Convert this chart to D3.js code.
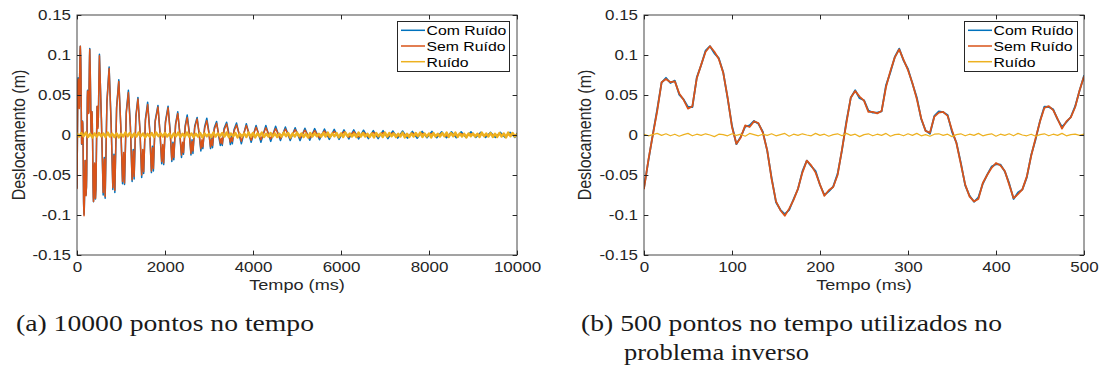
<!DOCTYPE html>
<html><head><meta charset="utf-8">
<script src="https://cdn.jsdelivr.net/npm/d3@7"></script>
<style>body{margin:0;background:#fff;} svg{display:block}</style>
</head><body>
<svg id="chart" width="1103" height="369"></svg>
<script>
// ---------- data ----------
const yTicks = [-0.15, -0.1, -0.05, 0, 0.05, 0.1, 0.15];
const yTickLabels = ["-0.15", "-0.1", "-0.05", "0", "0.05", "0.1", "0.15"];
const xTicksA = [0, 2000, 4000, 6000, 8000, 10000];
const xTicksB = [0, 100, 200, 300, 400, 500];
const seriesNames = ["Com Ruído", "Sem Ruído", "Ruído"];
const seriesColors = ["#0072BD", "#D95319", "#EDB120"];
const xLabel = "Tempo (ms)";
const yLabel = "Deslocamento (m)";
const captionA = ["(a) 10000 pontos no tempo"];
const captionB = ["(b) 500 pontos no tempo utilizados no", "problema inverso"];

// first 500 ms (ms)
const tempoCurto = [0,5,10,15,20,25,30,35,40,45,50,55,60,65,70,75,80,85,90,95,
100,105,110,115,120,125,130,135,140,145,150,155,160,165,170,175,180,185,190,195,
200,205,210,215,220,225,230,235,240,245,250,255,260,265,270,275,280,285,290,295,
300,305,310,315,320,325,330,335,340,345,350,355,360,365,370,375,380,385,390,395,
400,405,410,415,420,425,430,435,440,445,450,455,460,465,470,475,480,485,490,495,500];
const semRuidoCurto = [-0.067,-0.031,0.000,0.030,0.066,0.070,0.066,0.067,0.052,0.044,
0.033,0.036,0.071,0.088,0.104,0.111,0.104,0.095,0.078,0.047,
0.010,-0.011,-0.003,0.012,0.010,0.017,0.015,0.003,-0.019,-0.055,
-0.083,-0.094,-0.101,-0.092,-0.081,-0.067,-0.047,-0.032,-0.038,-0.047,
-0.062,-0.076,-0.069,-0.065,-0.050,-0.018,0.015,0.047,0.055,0.048,
0.043,0.029,0.029,0.027,0.030,0.060,0.080,0.097,0.107,0.094,
0.081,0.065,0.045,0.021,0.005,0.003,0.023,0.028,0.029,0.024,
0.006,-0.010,-0.036,-0.062,-0.077,-0.083,-0.080,-0.060,-0.050,-0.041,
-0.035,-0.038,-0.045,-0.062,-0.079,-0.074,-0.068,-0.052,-0.026,-0.004,
0.017,0.034,0.036,0.031,0.020,0.008,0.017,0.022,0.035,0.056,0.073];
const comRuidoCurto = [-0.066,-0.032,0.0005,0.032,0.0655,0.0715,0.065,0.068,0.0505,0.0445,
0.035,0.035,0.072,0.0875,0.1055,0.111,0.102,0.096,0.0785,0.046,
0.0115,-0.0115,-0.002,0.0105,0.012,0.0175,0.014,0.004,-0.0195,-0.0535,
-0.084,-0.0935,-0.099,-0.0935,-0.080,-0.0675,-0.0455,-0.032,-0.039,-0.045,
-0.0625,-0.075,-0.0705,-0.0645,-0.0485,-0.019,0.017,0.0465,0.056,0.046,
0.0435,0.0305,0.028,0.028,0.0295,0.062,0.0785,0.0975,0.108,0.093,
0.0825,0.0645,0.047,0.020,0.0055,0.0015,0.024,0.0295,0.0285,0.025,
0.004,-0.0095,-0.0345,-0.063,-0.076,-0.0835,-0.078,-0.061,-0.0495,-0.0395,
-0.0365,-0.037,-0.0455,-0.0605,-0.080,-0.072,-0.068,-0.053,-0.025,-0.0055,
0.0175,0.0355,0.035,0.032,0.0195,0.010,0.016,0.0225,0.036,0.0555,0.074];
const ruidoCurto = [0.001,-0.001,0.0005,0.002,-0.0005,0.0015,-0.001,0.001,-0.0015,0.0005,
0.002,-0.001,0.001,-0.0005,0.0015,0,-0.002,0.001,0.0005,-0.001,
0.0015,-0.0005,0.001,-0.0015,0.002,0.0005,-0.001,0.001,-0.0005,0.0015,
-0.001,0.0005,0.002,-0.0015,0.001,-0.0005,0.0015,0,-0.001,0.002,
-0.0005,0.001,-0.0015,0.0005,0.0015,-0.001,0.002,-0.0005,0.001,-0.002,
0.0005,0.0015,-0.001,0.001,-0.0005,0.002,-0.0015,0.0005,0.001,-0.001,
0.0015,-0.0005,0.002,-0.001,0.0005,-0.0015,0.001,0.0015,-0.0005,0.001,
-0.002,0.0005,0.0015,-0.001,0.001,-0.0005,0.002,-0.001,0.0005,0.0015,
-0.0015,0.001,-0.0005,0.0015,-0.001,0.002,0,-0.001,0.001,-0.0015,
0.0005,0.0015,-0.001,0.001,-0.0005,0.002,-0.001,0.0005,0.001,-0.0005,0.001];

// 500 - 10000 ms: extremes of the decaying response (ms)
const tempoLongo = [510,555,595,620,640,680, 730,775,815,840,860,900, 950,995,1035,1060,1080,1120,
1168,1213,1253,1278,1298,1338, 1385,1430,1470,1495,1515,1555, 1606,1651,1691,1716,1736,1776,
1840,1885,1925,1950,1970,2010, 2070,2115,2155,2180,2200,2240, 2290,2335,2375,2400,2420,2460,
2505,2550,2590,2615,2635,2675, 2730,2775,2815,2840,2860,2900, 2950,2995,3035,3060,3080,3120,
3172,3217,3257,3282,3302,3342, 3400,3445,3485,3510,3530,3570,
3625,3735,3848,3958,4070,4180,4292,4402,4514,4624,4736,4846,4958,5068,5180,5290,5402,5512,
5624,5734,5846,5956,6068,6178,6290,6400,6512,6622,6734,6844,6956,7066,7178,7288,7400,7510,
7622,7732,7844,7954,8066,8176,8288,8398,8510,8620,8732,8842,8954,9064,9176,9286,9398,9508,
9620,9730,9842,9952,10000];
const semRuidoLongo = [0.099,0.020,-0.072,-0.030,-0.077,0.040, 0.083,0.015,-0.066,-0.026,-0.069,0.033,
0.067,0.012,-0.058,-0.022,-0.060,0.027, 0.053,0.010,-0.056,-0.020,-0.052,0.022,
0.045,0.008,-0.050,-0.018,-0.046,0.018, 0.038,0.006,-0.045,-0.016,-0.042,0.016,
0.035,0.005,-0.033,-0.012,-0.035,0.015, 0.034,0.005,-0.031,-0.011,-0.028,0.012,
0.027,0.004,-0.025,-0.009,-0.022,0.010, 0.022,0.003,-0.023,-0.008,-0.020,0.009,
0.020,0.003,-0.017,-0.006,-0.015,0.008, 0.018,0.003,-0.015,-0.005,-0.013,0.007,
0.0146,0.002,-0.010,-0.004,-0.011,0.006, 0.0138,0.002,-0.009,-0.003,-0.008,0.005,
0.0125,-0.008,0.012,-0.0065,0.0096,-0.006,0.009,-0.005,0.008,-0.0045,0.0075,-0.0045,0.0068,-0.004,
0.006,-0.0038,0.0055,-0.0035,0.005,-0.003,0.0045,-0.003,0.0042,-0.0028,0.004,-0.0025,0.0035,-0.0022,
0.0032,-0.002,0.003,-0.002,0.0028,-0.0018,0.0025,-0.0016,0.0023,-0.0015,0.0021,-0.0014,0.002,-0.0013,
0.0018,-0.0012,0.0016,-0.0011,0.0015,-0.001,0.0014,-0.001,0.0013,-0.0009,0.0012,-0.0008,0.0011,-0.0008,
0.001,-0.0007,0.0005];
const comRuidoLongo = [0.101,0.018,-0.075,-0.028,-0.079,0.042, 0.085,0.017,-0.068,-0.024,-0.072,0.035,
0.069,0.010,-0.061,-0.024,-0.062,0.029, 0.056,0.012,-0.058,-0.018,-0.055,0.024,
0.047,0.006,-0.053,-0.020,-0.048,0.020, 0.041,0.008,-0.047,-0.014,-0.045,0.018,
0.037,0.003,-0.036,-0.014,-0.037,0.017, 0.036,0.007,-0.033,-0.009,-0.031,0.014,
0.029,0.002,-0.028,-0.011,-0.024,0.012, 0.025,0.005,-0.025,-0.006,-0.023,0.011,
0.022,0.001,-0.020,-0.008,-0.017,0.010, 0.021,0.005,-0.017,-0.003,-0.016,0.009,
0.017,0.000,-0.013,-0.006,-0.013,0.008, 0.016,0.004,-0.012,-0.001,-0.011,0.007,
0.015,-0.011,0.014,-0.009,0.012,-0.009,0.012,-0.008,0.011,-0.007,0.010,-0.007,0.009,-0.007,
0.0085,-0.0065,0.008,-0.006,0.0075,-0.0055,0.007,-0.0055,0.0065,-0.005,0.0065,-0.005,0.006,-0.0045,
0.0055,-0.0045,0.0055,-0.0045,0.005,-0.004,0.005,-0.004,0.0045,-0.004,0.0045,-0.0035,0.0045,-0.0035,
0.004,-0.0035,0.004,-0.0035,0.004,-0.003,0.004,-0.003,0.0035,-0.003,0.0035,-0.003,0.0035,-0.003,
0.0035,-0.003,0.002];

// noise over the full 10000 ms (ms)
const tempoRuidoLongo = [0,50,100,150,200,250,300,350,400,450,500,550,600,650,700,750,800,850,900,950,
1000,1050,1100,1150,1200,1250,1300,1350,1400,1450,1500,1550,1600,1650,1700,1750,1800,1850,1900,1950,
2000,2050,2100,2150,2200,2250,2300,2350,2400,2450,2500,2550,2600,2650,2700,2750,2800,2850,2900,2950,
3000,3050,3100,3150,3200,3250,3300,3350,3400,3450,3500,3550,3600,3650,3700,3750,3800,3850,3900,3950,
4000,4050,4100,4150,4200,4250,4300,4350,4400,4450,4500,4550,4600,4650,4700,4750,4800,4850,4900,4950,
5000,5050,5100,5150,5200,5250,5300,5350,5400,5450,5500,5550,5600,5650,5700,5750,5800,5850,5900,5950,
6000,6050,6100,6150,6200,6250,6300,6350,6400,6450,6500,6550,6600,6650,6700,6750,6800,6850,6900,6950,
7000,7050,7100,7150,7200,7250,7300,7350,7400,7450,7500,7550,7600,7650,7700,7750,7800,7850,7900,7950,
8000,8050,8100,8150,8200,8250,8300,8350,8400,8450,8500,8550,8600,8650,8700,8750,8800,8850,8900,8950,
9000,9050,9100,9150,9200,9250,9300,9350,9400,9450,9500,9550,9600,9650,9700,9750,9800,9850,9900,9950,10000];
const ruidoLongo = [0.002,-0.002,0.0025,-0.0015,0.003,-0.0025,0.0015,-0.003,0.002,-0.002,
0.0025,-0.0015,0.002,-0.0025,0.003,-0.002,0.0015,-0.0025,0.002,-0.003,
0.0015,-0.002,0.003,-0.0015,0.0025,-0.0025,0.002,-0.002,0.003,-0.0015,
0.002,-0.003,0.0015,-0.002,0.0025,-0.0025,0.003,-0.0015,0.002,-0.002,
0.0025,-0.002,0.0015,-0.003,0.002,-0.0015,0.003,-0.0025,0.0015,-0.002,
0.003,-0.002,0.002,-0.0025,0.0015,-0.002,0.0025,-0.003,0.002,-0.0015,
0.0015,-0.0025,0.003,-0.002,0.002,-0.0015,0.0025,-0.002,0.003,-0.0025,
0.002,-0.0015,0.0025,-0.003,0.0015,-0.002,0.002,-0.0025,0.003,-0.002,
0.0025,-0.003,0.002,-0.0015,0.003,-0.0025,0.0015,-0.002,0.0025,-0.002,
0.002,-0.0025,0.0015,-0.002,0.003,-0.0015,0.0025,-0.003,0.002,-0.002,
0.003,-0.0015,0.002,-0.0025,0.0015,-0.003,0.0025,-0.002,0.002,-0.0015,
0.0015,-0.002,0.0025,-0.002,0.003,-0.0025,0.002,-0.0015,0.0025,-0.003,
0.002,-0.0025,0.003,-0.0015,0.002,-0.002,0.0015,-0.0025,0.003,-0.002,
0.0025,-0.002,0.0015,-0.0025,0.002,-0.003,0.0025,-0.0015,0.002,-0.0025,
0.003,-0.002,0.0025,-0.0015,0.002,-0.0025,0.0015,-0.002,0.003,-0.003,
0.0015,-0.0025,0.002,-0.002,0.0025,-0.0015,0.003,-0.0025,0.002,-0.002,
0.002,-0.003,0.0025,-0.002,0.0015,-0.002,0.0025,-0.0015,0.003,-0.0025,
0.0025,-0.0015,0.003,-0.0025,0.002,-0.002,0.0015,-0.003,0.002,-0.0015,
0.002,-0.002,0.0015,-0.0025,0.003,-0.0015,0.002,-0.002,0.0025,-0.0025,
0.0015,-0.0025,0.0025,-0.002,0.002,-0.003,0.003,-0.0015,0.0025,-0.002,0.001];

// ---------- drawing ----------
const svg = d3.select("#chart");
const AX = "#262626";
const SX = 1.17;               // horizontal stretch of the exported figure text
const FONT = "Liberation Sans";

function panel(cfg) {
  const g = svg.append("g");
  const x = d3.scaleLinear().domain(cfg.xDomain).range([cfg.left, cfg.right]);
  const y = d3.scaleLinear().domain([-0.15, 0.15]).range([255, 15]);
  const top = 15, bottom = 255;

  g.append("rect").attr("x", cfg.left).attr("y", top)
    .attr("width", cfg.right - cfg.left).attr("height", bottom - top).attr("fill", "#fff");

  const clipId = "clip" + cfg.id;
  svg.append("clipPath").attr("id", clipId).append("rect")
    .attr("x", cfg.left).attr("y", top).attr("width", cfg.right - cfg.left).attr("height", bottom - top);

  const plot = g.append("g").attr("clip-path", `url(#${clipId})`);
  cfg.series.forEach(s => {
    const line = d3.line().x((d, i) => x(s.t[i])).y(d => y(d));
    plot.append("path").datum(s.v).attr("d", line)
      .attr("fill", "none").attr("stroke", s.color).attr("stroke-width", s.w)
      .attr("stroke-linejoin", "round").attr("stroke-linecap", "round");
  });

  const tk = 4.4;
  const styleAxis = sel => {
    sel.select(".domain").remove();
    sel.attr("font-family", FONT).attr("font-size", 14.5);
    sel.selectAll("line").attr("stroke", AX).attr("stroke-width", 1);
    sel.selectAll("text").attr("fill", AX);
  };
  const bottomAxis = g.append("g").attr("transform", `translate(0,${bottom})`)
    .call(d3.axisBottom(x).tickValues(cfg.xTicks).tickFormat(d3.format("d")).tickSizeInner(-tk).tickSizeOuter(0).tickPadding(7.2))
    .call(styleAxis);
  bottomAxis.selectAll("text").attr("transform", `scale(${SX},1)`);
  g.append("g").attr("transform", `translate(0,${top})`)
    .call(d3.axisTop(x).tickValues(cfg.xTicks).tickFormat("").tickSizeInner(-tk).tickSizeOuter(0))
    .call(styleAxis);
  const leftAxis = g.append("g").attr("transform", `translate(${cfg.left},0)`)
    .call(d3.axisLeft(y).tickValues(yTicks).tickFormat((d, i) => yTickLabels[i]).tickSizeInner(-tk).tickSizeOuter(0).tickPadding(5.1))
    .call(styleAxis);
  leftAxis.selectAll("text").attr("transform", `scale(${SX},1)`);
  g.append("g").attr("transform", `translate(${cfg.right},0)`)
    .call(d3.axisRight(y).tickValues(yTicks).tickFormat("").tickSizeInner(-tk).tickSizeOuter(0))
    .call(styleAxis);

  g.append("rect").attr("x", cfg.left).attr("y", top)
    .attr("width", cfg.right - cfg.left).attr("height", bottom - top)
    .attr("fill", "none").attr("stroke", AX).attr("stroke-width", 1).attr("opacity", 0.85);

  // axis labels
  g.append("text").text(xLabel)
    .attr("transform", `translate(${(cfg.left + cfg.right) / 2},289.5) scale(${SX},1)`)
    .attr("text-anchor", "middle").attr("fill", AX)
    .attr("font-family", FONT).attr("font-size", 15.5);
  g.append("text").text(yLabel)
    .attr("transform", `translate(${cfg.yLabelX},${(top + bottom) / 2}) scale(${SX},1) rotate(-90)`)
    .attr("text-anchor", "middle").attr("fill", AX)
    .attr("font-family", FONT).attr("font-size", 16);

  // legend
  const lg = g.append("g").attr("transform", `translate(${cfg.legend[0]},${cfg.legend[1]})`);
  lg.append("rect").attr("x", 0.5).attr("y", 0.5).attr("width", cfg.legend[2]).attr("height", 50)
    .attr("fill", "#fff").attr("stroke", AX).attr("stroke-width", 1);
  seriesNames.forEach((name, i) => {
    const ly = 9.3 + i * 15.7;
    lg.append("line").attr("x1", 4).attr("x2", 28).attr("y1", ly).attr("y2", ly)
      .attr("stroke", seriesColors[i]).attr("stroke-width", 1.5);
    lg.append("text").text(name)
      .attr("transform", `translate(29.5,${ly + 4.8}) scale(${SX},1)`)
      .attr("fill", "#000").attr("font-family", FONT).attr("font-size", 13.5);
  });
}

panel({
  id: "A", left: 77, right: 517, xDomain: [0, 10000], xTicks: xTicksA, yLabelX: 24.5,
  legend: [397, 21, 112],
  series: [
    { t: tempoCurto.concat(tempoLongo), v: comRuidoCurto.concat(comRuidoLongo), color: seriesColors[0], w: 1.5 },
    { t: tempoCurto.concat(tempoLongo), v: semRuidoCurto.concat(semRuidoLongo), color: seriesColors[1], w: 1.5 },
    { t: tempoRuidoLongo, v: ruidoLongo, color: seriesColors[2], w: 2.4 }
  ]
});
panel({
  id: "B", left: 644, right: 1084, xDomain: [0, 500], xTicks: xTicksB, yLabelX: 590.5,
  legend: [964, 21, 113],
  series: [
    { t: tempoCurto, v: comRuidoCurto, color: seriesColors[0], w: 1.8 },
    { t: tempoCurto, v: semRuidoCurto, color: seriesColors[1], w: 1.8 },
    { t: tempoCurto, v: ruidoCurto, color: seriesColors[2], w: 1.2 }
  ]
});

// captions
const CAP = "Liberation Serif";
svg.append("text").text(captionA[0]).attr("x", 16).attr("y", 331)
  .attr("textLength", 298).attr("lengthAdjust", "spacingAndGlyphs")
  .attr("font-family", CAP).attr("font-size", 23).attr("fill", "#1a1a1a");
svg.append("text").text(captionB[0]).attr("x", 581).attr("y", 331)
  .attr("textLength", 421).attr("lengthAdjust", "spacingAndGlyphs")
  .attr("font-family", CAP).attr("font-size", 23).attr("fill", "#1a1a1a");
svg.append("text").text(captionB[1]).attr("x", 624).attr("y", 360)
  .attr("textLength", 185).attr("lengthAdjust", "spacingAndGlyphs")
  .attr("font-family", CAP).attr("font-size", 23).attr("fill", "#1a1a1a");
</script>
</body></html>
